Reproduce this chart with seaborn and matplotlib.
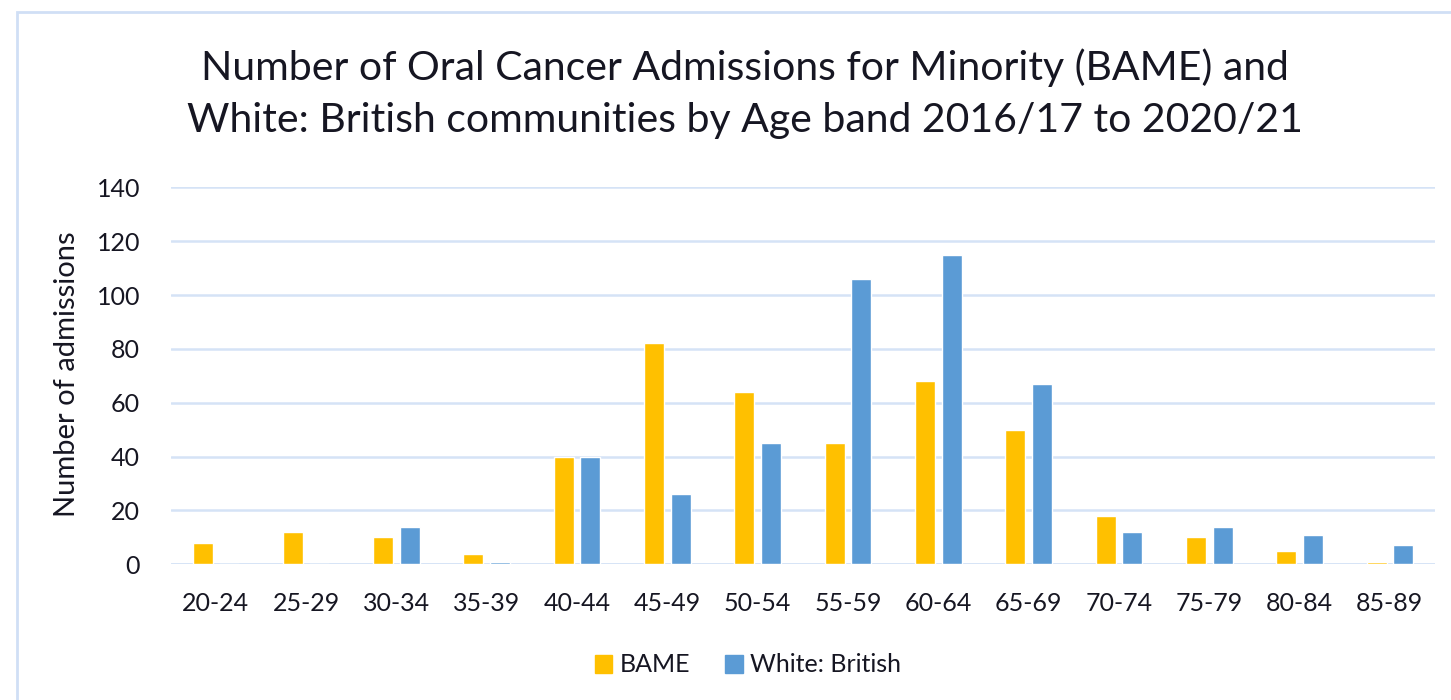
import matplotlib
matplotlib.use("Agg")
import matplotlib.pyplot as plt
import matplotlib.patches as mpatches
import seaborn as sns
import pandas as pd

age_bands = ["20-24", "25-29", "30-34", "35-39", "40-44", "45-49", "50-54",
             "55-59", "60-64", "65-69", "70-74", "75-79", "80-84", "85-89"]
bame = [8, 12, 10, 4, 40, 82, 64, 45, 68, 50, 18, 10, 5, 1]
white_british = [0, 0, 14, 1, 40, 26, 45, 106, 115, 67, 12, 14, 11, 7]
series_names = ["BAME", "White: British"]
y_ticks = [0, 20, 40, 60, 80, 100, 120, 140]

df = pd.DataFrame({
    "Age band": age_bands * 2,
    "Admissions": bame + white_british,
    "Group": [series_names[0]] * len(age_bands) + [series_names[1]] * len(age_bands),
})

sns.set_theme(style="white")
plt.rcParams["font.family"] = ["Lato", "DejaVu Sans"]

text_col = "#161622"
grid_col = "#d5e3f6"
palette = {"BAME": "#FFC000", "White: British": "#5B9BD5"}

fig = plt.figure(figsize=(14.51, 7.0), dpi=100)
ax = fig.add_axes([170.7 / 1451, 1 - 564.3 / 700, (1435 - 170.7) / 1451, (564.3 - 187.3) / 700])

sns.barplot(data=df, x="Age band", y="Admissions", hue="Group", order=age_bands,
            hue_order=series_names, palette=palette, width=0.59, gap=0.25,
            ax=ax, legend=False, saturation=1)

ax.set_xlim(-0.5, len(age_bands) - 0.5)
ax.set_ylim(0, 140)
ax.set_yticks(y_ticks)
ax.yaxis.grid(True, color=grid_col, linewidth=1.8)
ax.set_axisbelow(True)
for s in ax.spines.values():
    s.set_visible(False)
ax.axhline(0, color=grid_col, linewidth=1.8, zorder=0.5)

ax.tick_params(axis="y", labelsize=18, colors=text_col, pad=22, length=0)
ax.tick_params(axis="x", labelsize=18, colors=text_col, pad=20, length=0)
ax.set_xlabel("")
ax.set_ylabel("Number of admissions", fontsize=21, color=text_col)
ax.yaxis.set_label_coords((80 - 170.7) / 1264.3, 0.505)

fig.text(745 / 1451, 1 - 93.5 / 700,
         "Number of Oral Cancer Admissions for Minority (BAME) and\n"
         "White: British communities by Age band 2016/17 to 2020/21",
         ha="center", va="center", fontsize=29.5, color=text_col, linespacing=1.5)

handles = [mpatches.Patch(color=palette[n], label=n) for n in series_names]
fig.legend(handles=handles, loc="center", bbox_to_anchor=(748 / 1451, 1 - 665 / 700),
           ncol=2, frameon=False, fontsize=18, handlelength=0.7, handleheight=0.7,
           handletextpad=0.3, columnspacing=1.4, labelcolor=text_col)

border = mpatches.Rectangle((17 / 1451, -0.05), 1.1, 1 - 12 / 700 + 0.05,
                            transform=fig.transFigure, fill=False,
                            edgecolor="#d0dff5", linewidth=2)
fig.patches.append(border)

fig.savefig("out.png", dpi=100)
